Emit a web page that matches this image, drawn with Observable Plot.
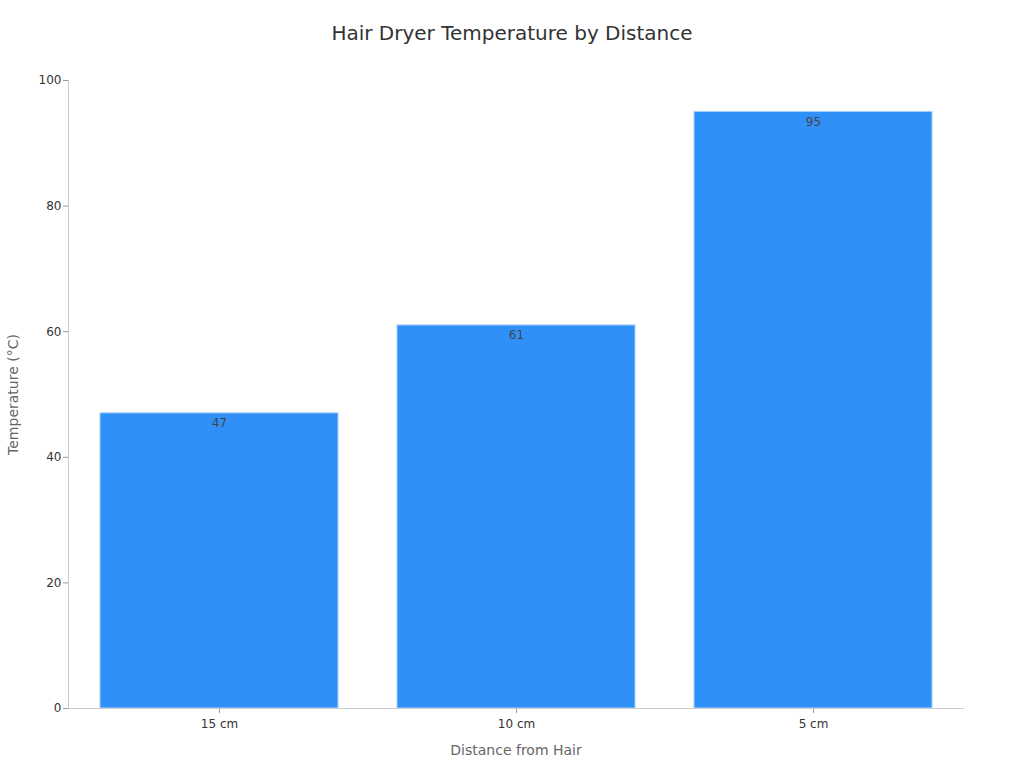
<!DOCTYPE html>
<html>
<head>
<meta charset="utf-8">
<script src="https://cdn.jsdelivr.net/npm/d3@7"></script>
<script src="https://cdn.jsdelivr.net/npm/@observablehq/plot@0.6"></script>
<style>
  html, body { margin: 0; padding: 0; background: #fff; font-family: "DejaVu Sans", sans-serif; }
  #title { height: 60px; line-height: 66px; text-align: center; font-size: 20px; color: #333; }
  #chart svg { display: block; }
</style>
</head>
<body>
<div id="title">Hair Dryer Temperature by Distance</div>
<div id="chart"></div>
<script>
const distances = ["15 cm", "10 cm", "5 cm"];
const temperatures = [47, 61, 95];
const yTicks = [0, 20, 40, 60, 80, 100];

const data = distances.map((d, i) => ({distance: d, temp: temperatures[i]}));

const chart = Plot.plot({
  width: 1024,
  height: 708,
  marginTop: 20,
  marginBottom: 60,
  marginLeft: 68,
  marginRight: 61,
  style: {fontFamily: "DejaVu Sans, sans-serif", fontSize: "12px", color: "#333", background: "#fff"},
  x: {domain: distances, paddingInner: 0.2, paddingOuter: 0.1, range: [69.5, 963], label: null},
  y: {domain: [0, 100], ticks: yTicks, label: null},
  marks: [
    Plot.barY(data, {x: "distance", y: "temp", fill: "#2f91f8", stroke: "#a9d1fb", strokeWidth: 1}),
    Plot.text(data, {x: "distance", y: "temp", text: d => String(d.temp), dy: 10, fill: "#444", fontSize: 12}),
    Plot.axisY({ticks: yTicks, tickSize: 5, stroke: "#999", tickPadding: 2, label: null}),
    Plot.axisX({tickSize: 5, stroke: "#999", tickPadding: 6, label: null}),
    Plot.frame({anchor: "left", stroke: "#ccc"}),
    Plot.frame({anchor: "bottom", stroke: "#ccc"}),
    Plot.text(["Temperature (°C)"], {frameAnchor: "left", textAnchor: "middle", dx: -55, rotate: -90, fill: "#666", fontSize: 14}),
    Plot.text(["Distance from Hair"], {frameAnchor: "bottom", dy: 46, fill: "#666", fontSize: 14})
  ]
});
document.getElementById("chart").appendChild(chart);
</script>
</body>
</html>
